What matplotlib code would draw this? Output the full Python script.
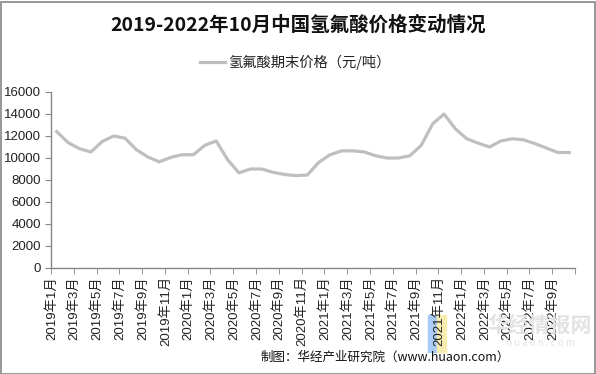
import matplotlib
matplotlib.use("Agg")
import matplotlib.pyplot as plt
from matplotlib.patches import Rectangle
from matplotlib.ticker import FixedLocator

plt.rcParams['font.family'] = ['Noto Sans CJK SC', 'DejaVu Sans']

title = "2019-2022年10月中国氢氟酸价格变动情况"
series_name = "氢氟酸期末价格（元/吨）"
source = "制图：华经产业研究院（www.huaon.com）"

months = [f"{y}年{m}月" for y in range(2019, 2023) for m in range(1, 13)][:46]
prices = [12400, 11400, 10850, 10550, 11500, 12000, 11800, 10750, 10100, 9650,
          10050, 10300, 10300, 11150, 11550, 9850, 8650, 9000, 9000, 8700,
          8500, 8400, 8450, 9600, 10300, 10650, 10650, 10550, 10200, 10000,
          10000, 10200, 11150, 13100, 14000, 12650, 11750, 11350, 11000, 11550,
          11750, 11650, 11300, 10900, 10500, 10500]
yticks = list(range(0, 16001, 2000))

fig = plt.figure(figsize=(5.96, 3.74), dpi=100)
ax = fig.add_axes([51/596, 1-268/374, 524/596, 176/374])

x = list(range(len(prices)))
ax.plot(x, prices, color="#BFBFBF", lw=2.3, solid_joinstyle="round")

ax.set_xlim(-0.5, len(prices)-0.5)
ax.set_ylim(0, 16000)
ax.set_yticks(yticks)
ax.set_yticklabels([str(v) for v in yticks], fontsize=9.5, family=["Liberation Sans"], color="#222222")

lab_idx = list(range(0, len(months), 2))
ax.set_xticks([i - 0.45 for i in lab_idx])
ax.set_xticklabels([months[i] for i in lab_idx], rotation=90, fontsize=9.5,
                   family=["Liberation Sans", "Noto Sans CJK SC"], color="#222222")
ax.tick_params(axis='x', length=0, pad=6)
ax.xaxis.set_minor_locator(FixedLocator([i - 0.5 for i in range(0, len(prices)+1, 2)]))
ax.tick_params(axis='x', which='minor', length=4, color="#868686", direction='out')
ax.tick_params(axis='y', length=4, color="#868686", direction='out', pad=3)

for s in ['top', 'right']:
    ax.spines[s].set_visible(False)
for s in ['left', 'bottom']:
    ax.spines[s].set_color("#868686")
    ax.spines[s].set_linewidth(1)

fig.text(0.5, 1-25/374, title, ha='center', va='center', fontsize=14, fontweight='bold', color="#111111")

# legend
fig.add_artist(plt.Line2D([200/596, 225/596], [1-62/374, 1-62/374], color="#BFBFBF", lw=2.3))
fig.text(228/596, 1-62/374, series_name, ha='left', va='center', fontsize=10.3, color="#222222")

# watermark
fig.text(540/596, 1-325/374, "华经情报网", ha='center', va='center', fontsize=15, color="#E3E3E3", fontweight='bold', zorder=0)
fig.text(540/596, 1-343/374, "h u a o n . c o m", ha='center', va='center', fontsize=7, color="#E3E3E3", zorder=0)
fig.add_artist(Rectangle((428/596, 1-352/374), 9/596, 37/374, color="#A9CBF5", zorder=0))
fig.add_artist(Rectangle((437/596, 1-352/374), 9/596, 37/374, color="#F8EDB0", zorder=0))

fig.text(510/596, 1-357/374, source, ha='right', va='center', fontsize=9, color="#111111")

fig.add_artist(Rectangle((0.5/596, 0.5/374), 594/596, 372/374, fill=False, edgecolor="#868686", lw=1.2, transform=fig.transFigure))

fig.savefig("out.png", dpi=100)
